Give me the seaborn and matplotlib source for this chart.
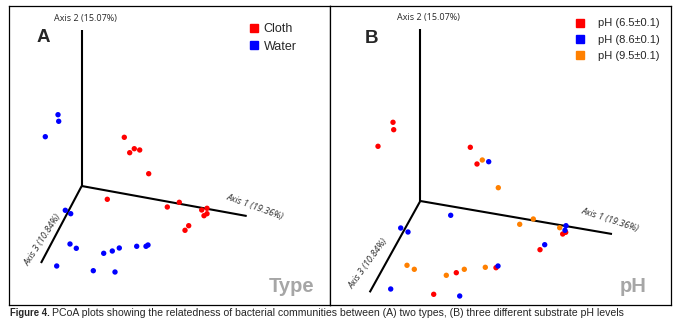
import pandas as pd
import matplotlib.pyplot as plt
import seaborn as sns
from matplotlib.lines import Line2D

# ---- panel A : sample type (projected PCoA positions, pixel units) ----
cloth_x = [124.3, 129.7, 134.3, 139.7, 148.7, 107.3, 167.3, 179.3, 201.7, 207.0, 204.0, 207.0, 188.7, 185.0]
cloth_y = [137.3, 152.7, 148.7, 150.0, 173.7, 199.3, 207.0, 202.3, 210.0, 208.3, 215.7, 213.7, 225.7, 230.3]
water_x = [58.0, 58.7, 45.3, 65.3, 70.7, 70.0, 76.3, 56.7, 93.3, 103.7, 112.3, 119.3, 115.0, 136.7, 146.0, 148.0]
water_y = [114.7, 121.3, 136.7, 210.3, 213.7, 244.0, 248.3, 266.0, 270.7, 253.3, 251.0, 248.0, 272.0, 246.3, 246.3, 245.0]

# ---- panel B : substrate pH ----
ph65_x = [393.0, 393.7, 378.0, 470.3, 477.0, 562.7, 565.7, 540.0, 456.3, 496.0, 433.7]
ph65_y = [122.3, 129.7, 146.3, 147.3, 164.0, 234.0, 232.3, 249.7, 272.7, 267.7, 294.3]
ph86_x = [488.7, 450.7, 400.7, 408.0, 566.0, 565.0, 544.7, 498.0, 390.7, 459.7]
ph86_y = [161.7, 215.3, 228.0, 232.0, 225.7, 230.3, 244.7, 266.0, 289.0, 296.0]
ph95_x = [482.3, 498.3, 533.3, 519.7, 559.7, 407.0, 414.3, 446.3, 464.3, 485.3]
ph95_y = [160.0, 187.7, 219.0, 224.3, 227.7, 265.3, 269.3, 275.3, 269.3, 267.3]

type_labels = ["Cloth", "Water"]
type_colors = ["#ff0000", "#0000ff"]
ph_labels = ["pH (6.5±0.1)", "pH (8.6±0.1)", "pH (9.5±0.1)"]
ph_colors = ["#ff0000", "#0000ff", "#ff8000"]

axis_titles = ["Axis 1 (19.36%)", "Axis 2 (15.07%)", "Axis 3 (10.84%)"]

# 3D axes frame (origin, axis1 end, axis2 end, axis3 end)
frame_a = [(81.7, 186.0), (246.7, 216.0), (81.7, 30.0), (41.0, 263.0)]
frame_b = [(420.3, 201.0), (612.0, 234.0), (420.3, 29.3), (369.7, 292.3)]

df_a = pd.concat([
    pd.DataFrame({"x": cloth_x, "y": cloth_y, "group": type_labels[0]}),
    pd.DataFrame({"x": water_x, "y": water_y, "group": type_labels[1]}),
])
df_b = pd.concat([
    pd.DataFrame({"x": ph65_x, "y": ph65_y, "group": ph_labels[0]}),
    pd.DataFrame({"x": ph86_x, "y": ph86_y, "group": ph_labels[1]}),
    pd.DataFrame({"x": ph95_x, "y": ph95_y, "group": ph_labels[2]}),
])

sns.set_style("white")
plt.rcParams["font.family"] = ["Liberation Sans", "DejaVu Sans"]

W, H = 684, 324
fig = plt.figure(figsize=(W / 100, H / 100), dpi=100)


def panel(x0, x1, y0, y1):
    ax = fig.add_axes([x0 / W, 1 - y1 / H, (x1 - x0) / W, (y1 - y0) / H])
    ax.set_xlim(x0, x1)
    ax.set_ylim(y1, y0)
    ax.set_xticks([])
    ax.set_yticks([])
    for s in ax.spines.values():
        s.set_visible(True)
        s.set_color("black")
        s.set_linewidth(0.9)
    return ax


ax_a = panel(9, 330, 5.5, 305)
ax_b = panel(330, 671, 5.5, 305)


def draw_frame(ax, fr, lab_pos, rots):
    o = fr[0]
    for end in fr[1:]:
        ax.plot([o[0], end[0]], [o[1], end[1]], color="black", lw=1.5, zorder=1,
                solid_capstyle="butt")
    for i, (txt, pos, rot) in enumerate(zip(axis_titles, lab_pos, rots)):
        ax.text(pos[0], pos[1], txt, rotation=rot, ha="center", va="center",
                fontsize=6.5, family=["Open Sans", "DejaVu Sans"],
                style="normal" if i == 1 else "italic",
                rotation_mode="anchor", zorder=2)


draw_frame(ax_a, frame_a, [(255, 207), (85, 19), (43, 240)], [-20, 0, 57])
draw_frame(ax_b, frame_b, [(610, 219.7), (428, 17.7), (368.7, 263.3)], [-18, 0, 54])

sns.scatterplot(data=df_a, x="x", y="y", hue="group", palette=type_colors,
                s=15, linewidth=0, legend=False, ax=ax_a, zorder=3)
sns.scatterplot(data=df_b, x="x", y="y", hue="group", palette=ph_colors,
                s=15, linewidth=0, legend=False, ax=ax_b, zorder=3)
for ax in (ax_a, ax_b):
    ax.set_xlabel("")
    ax.set_ylabel("")

# legends
h_a = [Line2D([], [], marker="s", ls="", color=c, markersize=5.3) for c in type_colors]
ax_a.legend(h_a, type_labels, loc="upper left", bbox_to_anchor=(248.5, 23.5),
            bbox_transform=ax_a.transData, frameon=False, fontsize=9,
            handlelength=0.8, handletextpad=0.4, borderpad=0, borderaxespad=0,
            labelspacing=0.42)
h_b = [Line2D([], [], marker="s", ls="", color=c, markersize=5.6) for c in ph_colors]
ax_b.legend(h_b, ph_labels, loc="upper left", bbox_to_anchor=(575.3, 18.5),
            bbox_transform=ax_b.transData, frameon=False, fontsize=8,
            handlelength=0.8, handletextpad=1.2, borderpad=0, borderaxespad=0,
            labelspacing=0.55)

# panel letters and titles
ax_a.text(43, 38, "A", fontsize=13.5, fontweight="bold", ha="center", va="center")
ax_b.text(371.3, 38.3, "B", fontsize=13.5, fontweight="bold", ha="center", va="center")
ax_a.text(291.7, 286.7, "Type", fontsize=14.5, fontweight="bold", color="#a6a6a6",
          ha="center", va="center")
ax_b.text(633, 286.7, "pH", fontsize=14.5, fontweight="bold", color="#a6a6a6",
          ha="center", va="center")

# caption (condensed font is not available, so fit the width instead)
cap_bold = "Figure 4."
cap_rest = ("PCoA plots showing the relatedness of bacterial communities between "
            "(A) two types, (B) three different substrate pH levels")
t1 = fig.text(10 / W, 1 - 313 / H, cap_bold, fontsize=7.5, fontweight="bold",
              va="center", ha="left")
t2 = fig.text(52 / W, 1 - 313 / H, cap_rest, fontsize=7.5, va="center", ha="left")
r = fig.canvas.get_renderer()
w1 = t1.get_window_extent(r).width
t1.set_fontsize(7.5 * min(1.0, 40 / w1))
w2 = t2.get_window_extent(r).width
t2.set_fontsize(7.5 * 571 / w2)

fig.savefig("out.png", dpi=100)
